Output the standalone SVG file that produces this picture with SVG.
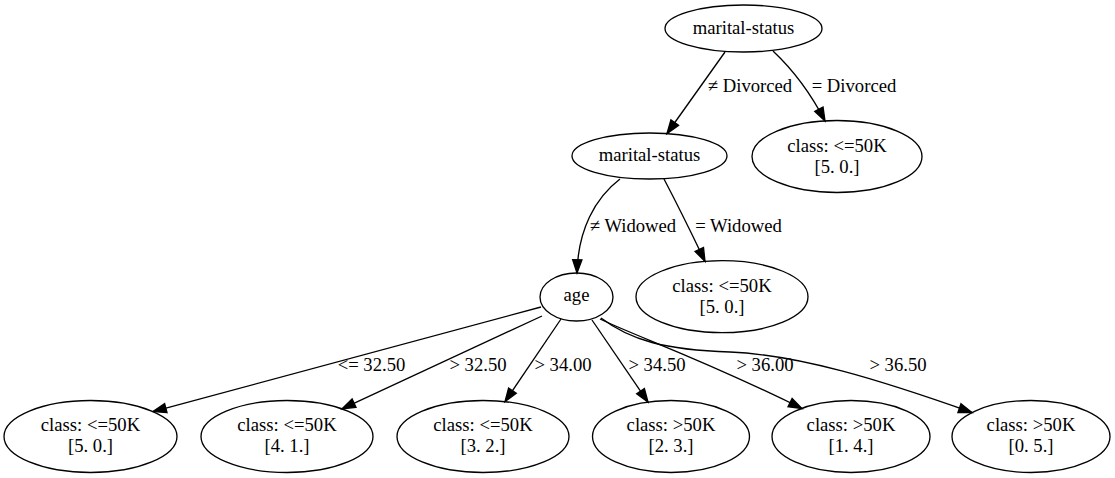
<svg xmlns="http://www.w3.org/2000/svg" width="1115" height="478" viewBox="0 0 1115 478" font-family="'Liberation Serif', 'DejaVu Serif', serif">
<style>
  .node ellipse { fill: none; stroke: #000; stroke-width: 1.33; }
  text { font-family: 'Liberation Serif', 'DejaVu Serif', serif; font-size: 18.67px; fill: #000; text-anchor: middle; }
  .edge path { fill: none; stroke: #000; stroke-width: 1.33; marker-end: url(#ah); }
</style>
<defs>
  <marker id="ah" markerWidth="16" markerHeight="12" refX="13.3" refY="5" orient="auto" markerUnits="userSpaceOnUse" overflow="visible">
    <path d="M0,0.33 L13.3,5 L0,9.67 Z" fill="#000" stroke="#000" stroke-width="1.33"/>
  </marker>
</defs>
<rect width="1115" height="478" fill="#fff"/>
<g id="edges">
  <g class="edge" id="e-root-m2"><path d="M725,52 L667,133.5"/><text x="750" y="92">≠ Divorced</text></g>
  <g class="edge" id="e-root-div"><path d="M773,51 C790,67 809,90 825,121"/><text x="854" y="92">= Divorced</text></g>
  <g class="edge" id="e-m2-age"><path d="M620,179 C595,198 578,230 577,273"/><text x="633" y="232">≠ Widowed</text></g>
  <g class="edge" id="e-m2-wid"><path d="M664,179 C675,200 690,230 705,261.4"/><text x="738.5" y="232">= Widowed</text></g>
  <g class="edge" id="e-age-l1"><path d="M541,307 L153,411.6"/><text x="371.5" y="371">&lt;= 32.50</text></g>
  <g class="edge" id="e-age-l2"><path d="M542,316 L342,408.8"/><text x="478" y="371">&gt; 32.50</text></g>
  <g class="edge" id="e-age-l3"><path d="M561,319 L505,401.7"/><text x="563" y="371">&gt; 34.00</text></g>
  <g class="edge" id="e-age-l4"><path d="M592,320 L648,402.1"/><text x="657" y="371">&gt; 34.50</text></g>
  <g class="edge" id="e-age-l5"><path d="M600,319 C640,338 700,358 802,408.5"/><text x="765" y="371">&gt; 36.00</text></g>
  <g class="edge" id="e-age-l6"><path d="M601,318 C630,340 665,350 730,352 C800,355 880,380 972,412.5"/><text x="898" y="371">&gt; 36.50</text></g>
</g>
<g class="node" id="n-root"><ellipse cx="743.5" cy="28.5" rx="78.5" ry="23.5"/><text x="743.5" y="33.5">marital-status</text></g>
<g class="node" id="n-m2"><ellipse cx="649.5" cy="156" rx="77.5" ry="23"/><text x="649.5" y="161">marital-status</text></g>
<g class="node" id="n-div"><ellipse cx="837" cy="156.5" rx="85" ry="36"/><text x="837" y="151.5">class: &lt;=50K</text><text x="837" y="172.5">[5. 0.]</text></g>
<g class="node" id="n-age"><ellipse cx="576.5" cy="297" rx="36.5" ry="24"/><text x="576.5" y="301">age</text></g>
<g class="node" id="n-wid"><ellipse cx="722" cy="296.7" rx="86" ry="36"/><text x="722" y="291.7">class: &lt;=50K</text><text x="722" y="312.7">[5. 0.]</text></g>
<g class="node" id="n-l1"><ellipse cx="90.5" cy="436.5" rx="86.5" ry="36"/><text x="90.5" y="431">class: &lt;=50K</text><text x="90.5" y="452">[5. 0.]</text></g>
<g class="node" id="n-l2"><ellipse cx="287" cy="436.5" rx="86" ry="36"/><text x="287" y="431">class: &lt;=50K</text><text x="287" y="452">[4. 1.]</text></g>
<g class="node" id="n-l3"><ellipse cx="483" cy="436.5" rx="86" ry="36"/><text x="483" y="431">class: &lt;=50K</text><text x="483" y="452">[3. 2.]</text></g>
<g class="node" id="n-l4"><ellipse cx="671" cy="436.5" rx="78.5" ry="36"/><text x="671" y="431">class: &gt;50K</text><text x="671" y="452">[2. 3.]</text></g>
<g class="node" id="n-l5"><ellipse cx="851" cy="436.5" rx="79" ry="36"/><text x="851" y="431">class: &gt;50K</text><text x="851" y="452">[1. 4.]</text></g>
<g class="node" id="n-l6"><ellipse cx="1031" cy="436.5" rx="79" ry="36"/><text x="1031" y="431">class: &gt;50K</text><text x="1031" y="452">[0. 5.]</text></g>
</svg>
